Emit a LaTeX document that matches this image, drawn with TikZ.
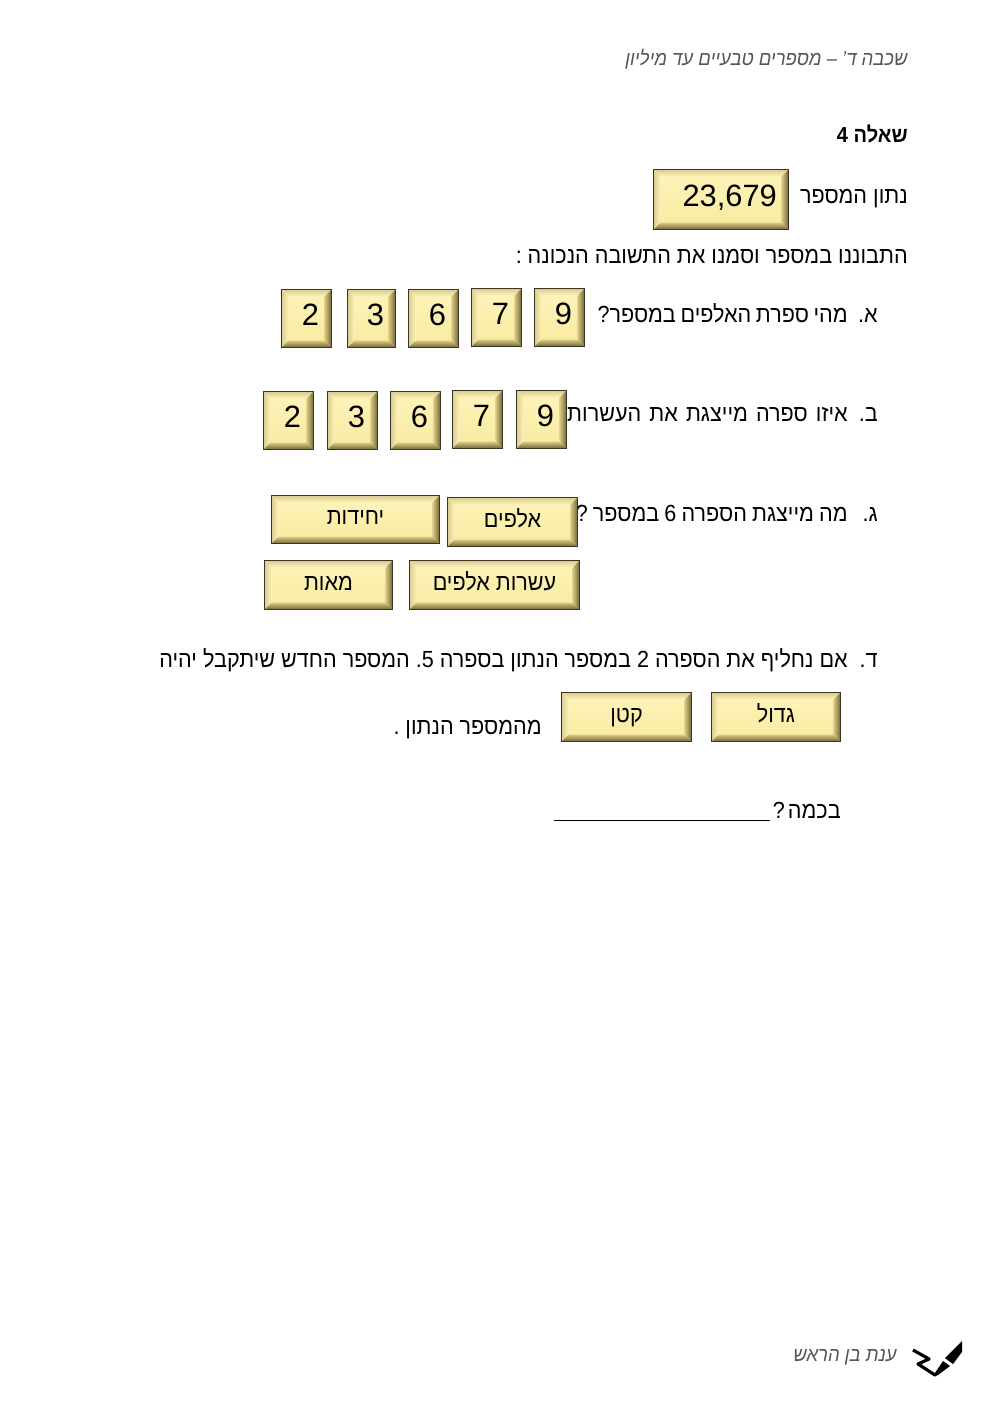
\documentclass[tikz,border=0pt]{standalone}
\usepackage {fontspec}
\setmainfont[Script=Hebrew,FakeStretch=0.925]{Liberation Sans}
\newfontfamily\latinfont{Liberation Sans}
\TeXXeTstate=1
\frenchspacing
\newcommand {\heb}[1]{\beginR #1\endR}
\newcommand {\num}[1]{\beginL #1\endL{}}
\definecolor {keyface}{HTML}{F9EBA3}
\definecolor {keypale}{HTML}{FDF3B8}
\definecolor {keyedge}{HTML}{D9CB90}
\definecolor {keymid}{HTML}{DCCB85}
\definecolor {keydark}{HTML}{6F6439}
\definecolor {keyline}{HTML}{3B3622}
\definecolor {headgray}{HTML}{555555}
\tikzset {
  bevel/.style={path picture={
      \coordinate (bl) at (path picture bounding box.south west);
      \coordinate (br) at (path picture bounding box.south east);
      \coordinate (tl) at (path picture bounding box.north west);
      \coordinate (tr) at (path picture bounding box.north east);
      \coordinate (ibl) at ([shift={(4.2pt,4.2pt)}]bl);
      \coordinate (ibr) at ([shift={(-4.2pt,4.2pt)}]br);
      \coordinate (itl) at ([shift={(4.2pt,-4.2pt)}]tl);
      \coordinate (itr) at ([shift={(-4.2pt,-4.2pt)}]tr);
      \shade [top color=keypale, bottom color=keyface] (itl) rectangle (ibr);
      \shade [top color=keyedge, bottom color=keypale] (tl) -- (tr) -- (itr) -- (itl) -- cycle;
      \shade [left color=keyedge, right color=keypale] (tl) -- (bl) -- (ibl) -- (itl) -- cycle;
      \shade [left color=keymid, right color=keydark] (tr) -- (br) -- (ibr) -- (itr) -- cycle;
      \shade [top color=keymid, bottom color=keydark] (bl) -- (br) -- (ibr) -- (ibl) -- cycle;
  }},
  keybox/.style={draw=keyline, line width=0.8pt, fill=keyface, bevel, inner sep=0pt, text=black, text height=10pt, text depth=4pt, font=\fontsize{14}{17}\selectfont},
  digitkey/.style={keybox, minimum width=30pt, minimum height=34.8pt, text height=13pt, text depth=4.8pt, execute at begin node={\hspace*{4.8pt}}, font=\latinfont\fontsize{18.5}{22}\selectfont},
  wordkey/.style={keybox, minimum height=29.4pt},
  body/.style={anchor=base east, inner sep=0pt, font=\fontsize{14}{17}\selectfont},
  slanted/.style={anchor=base east, inner sep=0pt, text=headgray, font=\itshape\fontsize{12}{15}\selectfont}
}
\begin{document}
\begin{tikzpicture}[x=0.6pt, y=-0.6pt]
  \useasboundingbox [fill=white] (0,0) rectangle (1000,1413);
  \node [slanted] (header) at (908,66) {\heb{שכבה ד' – מספרים טבעיים עד מיליון}};
  \node [body, font=\bfseries\fontsize{13}{17}\selectfont] (title) at (908,143) {\heb{שאלה \num{4}}};
  \node [body] (given) at (908,203) {\heb{נתון המספר}};
  \node [body] (intro) at (908,263) {\heb{התבוננו במספר וסמנו את התשובה הנכונה :}};
  \node [body] (lettera) at (878,322) {\heb{א.}};
  \node [body] (itema) at (848,322) {\spaceskip=2.8pt\heb{מהי ספרת האלפים במספר?}};
  \node [body] (letterb) at (878,421) {\heb{ב.}};
  \node [body] (itemb) at (848,421) {\spaceskip=4.9pt\heb{איזו ספרה מייצגת את העשרות}};
  \node [body] (letterg) at (878,521) {\heb{ג.}};
  \node [body] (itemg) at (848,521) {\spaceskip=3.1pt\heb{מה מייצגת הספרה \num{6} במספר ?}};
  \node [body] (letterd) at (878,667) {\heb{ד.}};
  \node [body] (itemd) at (848,667) {\heb{אם נחליף את הספרה \num{2} במספר הנתון בספרה \num{5}. המספר החדש שיתקבל יהיה}};
  \node [body] (than) at (542,734) {\heb{מהמספר הנתון .}};
  \node [body] (howmuch) at (841,818) {\heb{בכמה\hspace{1.8pt}?}};
  \coordinate (blankr) at (770,820);
  \coordinate (blankl) at (554,820);
  \draw [line width=0.6pt] (blankr) -- (blankl);
  \node [digitkey, minimum width=81pt, minimum height=36pt, execute at begin node={\hspace*{5.6pt}}] (number) at (721,199.5) {23,679};
  \node [digitkey] (anine) at (559.5,317.5) {9};
  \node [digitkey] (aseven) at (496.5,317.5) {7};
  \node [digitkey] (asix) at (433.5,318.5) {6};
  \node [digitkey, minimum width=28.8pt] (athree) at (371.5,318.5) {3};
  \node [digitkey] (atwo) at (306.5,318.5) {2};
  \node [digitkey] (bnine) at (541.5,419.5) {9};
  \node [digitkey] (bseven) at (477.5,419.5) {7};
  \node [digitkey] (bsix) at (415.5,420.5) {6};
  \node [digitkey] (bthree) at (352.5,420.5) {3};
  \node [digitkey] (btwo) at (288.5,420.5) {2};
  \node [wordkey, minimum width=100.8pt, minimum height=28.8pt] (units) at (355.5,519.5) {\heb{יחידות}};
  \node [wordkey, minimum width=78pt] (thousands) at (512.5,522) {\heb{אלפים}};
  \node [wordkey, minimum width=76.8pt] (hundreds) at (328.5,585) {\heb{מאות}};
  \node [wordkey, minimum width=102pt] (tenthousands) at (494.5,585) {\heb{עשרות אלפים}};
  \node [wordkey, minimum width=77.4pt] (bigger) at (776,717) {\heb{גדול}};
  \node [wordkey, minimum width=78pt] (smaller) at (626.5,717) {\heb{קטן}};
  \node [slanted] (signature) at (897,1361) {\heb{ענת בן הראש}};
  \coordinate (squiga) at (913,1350);
  \coordinate (squigb) at (929,1359);
  \coordinate (squigc) at (918,1364);
  \coordinate (squigd) at (935,1375);
  \coordinate (squige) at (941,1370);
  \draw [line width=1.9pt, line join=round] (squiga) -- (squigb) -- (squigc) -- (squigd) -- (squige);
  \fill (962,1341) -- (962,1352) -- (953,1364) -- (945,1358) -- cycle;
  \fill (943,1361) -- (950,1366) -- (938,1375) -- (935,1373) -- cycle;
\end{tikzpicture}
\end{document}
